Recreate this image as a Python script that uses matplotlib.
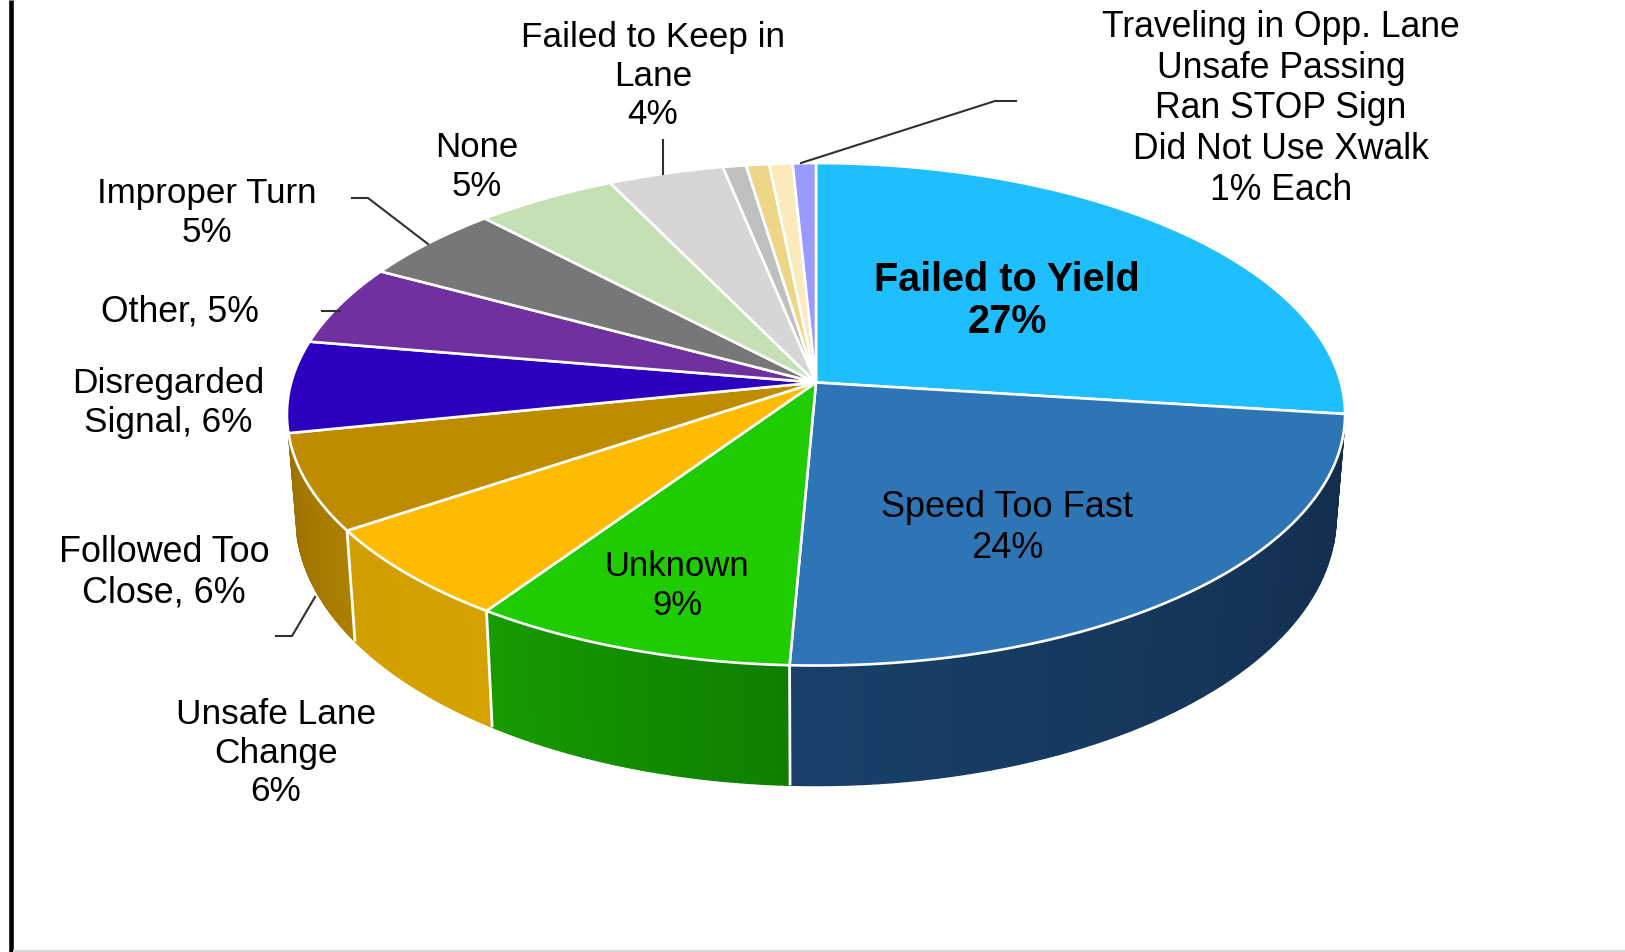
import numpy as np
import matplotlib
matplotlib.use("Agg")
import matplotlib.pyplot as plt
from matplotlib.patches import Polygon

plt.rcParams['font.family'] = ['Liberation Sans', 'DejaVu Sans']

# causes, clockwise from 12 o'clock
causes = ["Failed to Yield", "Speed Too Fast", "Unknown", "Unsafe Lane Change",
          "Followed Too Close", "Disregarded Signal", "Other", "Improper Turn",
          "None", "Failed to Keep in Lane", "Traveling in Opp. Lane",
          "Unsafe Passing", "Ran STOP Sign", "Did Not Use Xwalk"]
shares = [27.0, 23.7, 8.8, 6.1, 6.2, 5.9, 5.2, 5.0, 4.9, 4.0, 0.8, 0.8, 0.8, 0.8]
top_colors = ["#1FBEFF", "#2E75B6", "#1FCC00", "#FFBB00", "#BF8C00", "#2C00BE", "#7030A0",
              "#777777", "#C5E0B4", "#D6D6D6", "#BFBFBF", "#EED688", "#FBEABB", "#9A9AFF"]

# side wall colours (left end, right end), only the slices facing the viewer
side_colors = {1: ("#184068", "#122C4C"), 2: ("#179C00", "#0F7E00"),
               3: ("#D29E00", "#D6A200"), 4: ("#9A7000", "#AD8000")}

# label text, one entry per label
label_texts = ["Failed to Yield\n27%", "Speed Too Fast\n24%", "Unknown\n9%",
               "Unsafe Lane\nChange\n6%", "Followed Too\nClose, 6%",
               "Disregarded\nSignal, 6%", "Other, 5%", "Improper Turn\n5%", "None\n5%",
               "Failed to Keep in\nLane\n4%",
               "Traveling in Opp. Lane\nUnsafe Passing\nRan STOP Sign\nDid Not Use Xwalk\n1% Each"]
label_xy = [(1007, 301), (1007, 528), (677, 586), (276, 753), (164, 573), (168, 403),
            (180, 312), (207, 213), (477, 167), (653, 76), (1281, 109)]
label_sizes = [28.5, 26, 25, 25.4, 25.8, 25.4, 25.6, 25.2, 25, 25.3, 25.6]

# leader lines of the outside labels
leaders = [[(801, 163), (995, 101), (1016, 101)],
           [(352, 198), (368, 198), (428, 244)],
           [(322, 311), (340, 311)],
           [(276, 636), (292, 636), (315, 597)],
           [(663, 140), (663, 174)]]

# pie geometry in pixels (the disc is seen in perspective, hub is off-centre)
CX, CY, RX, RY = 816.5, 414, 529, 251
HUB_X, HUB_Y = 816, 382.5
C = -0.1266
A = 247.2
B = 524.8
BOT_CY, BOT_RX, BOT_RY = 517, 520, 268


def rim(theta):
    # theta clockwise from the top, in radians
    u, v = np.sin(theta), -np.cos(theta)
    d = 1 + C * v
    return HUB_X + B * u / d, HUB_Y + A * v / d


def to_bottom(x, y):
    return CX + (x - CX) / RX * BOT_RX, BOT_CY + (y - CY) / RY * BOT_RY


fig = plt.figure(figsize=(16.25, 9.52), dpi=100)
ax = fig.add_axes([0, 0, 1, 1])
ax.set_xlim(0, 1625)
ax.set_ylim(952, 0)
ax.axis('off')

edges = np.radians(np.concatenate([[0], np.cumsum(shares)]) * 3.6)

# side wall first, the top goes over it
for i, (left, right) in side_colors.items():
    t = np.linspace(edges[i + 1], edges[i], 61)
    c0, c1 = np.array(matplotlib.colors.to_rgb(left)), np.array(matplotlib.colors.to_rgb(right))
    xs, ys = rim(t)
    xb, yb = to_bottom(xs, ys)
    for k in range(len(t) - 1):
        col = c0 + (c1 - c0) * k / (len(t) - 2)
        pts = [(xs[k], ys[k]), (xs[k + 1], ys[k + 1]), (xb[k + 1], yb[k + 1]), (xb[k], yb[k])]
        ax.add_patch(Polygon(pts, closed=True, fc=col, ec=col, lw=1.0, zorder=2))
# seams on the wall
for i in [2, 3, 4]:
    x, y = rim(edges[i])
    xb, yb = to_bottom(x, y)
    ax.plot([x, xb], [y, yb], color='white', lw=2.0, zorder=3, solid_capstyle='butt')

# top of the disc
for i, col in enumerate(top_colors):
    t = np.linspace(edges[i], edges[i + 1], 80)
    xs, ys = rim(t)
    pts = [(HUB_X, HUB_Y)] + list(zip(xs, ys))
    ax.add_patch(Polygon(pts, closed=True, fc=col, ec='white', lw=1.9, joinstyle='round', zorder=4))

# labels
for i, (txt, (x, y)) in enumerate(zip(label_texts, label_xy)):
    bold = i == 0
    ax.text(x, y, txt, ha='center', va='center', color='black', zorder=6,
            fontsize=label_sizes[i], fontweight='bold' if bold else 'normal',
            linespacing=1.16 if bold else 1.21)

for pts in leaders:
    ax.plot([p[0] for p in pts], [p[1] for p in pts], color='#303030', lw=1.5, zorder=5)

# frame of the pasted picture
ax.plot([10.5, 10.5], [0, 952], color='black', lw=3.3, zorder=7, solid_capstyle='butt')
ax.plot([13, 1625], [950.5, 950.5], color='#D8D8D8', lw=1.6, zorder=7, solid_capstyle='butt')

fig.savefig("out.png", dpi=100, facecolor='white')
